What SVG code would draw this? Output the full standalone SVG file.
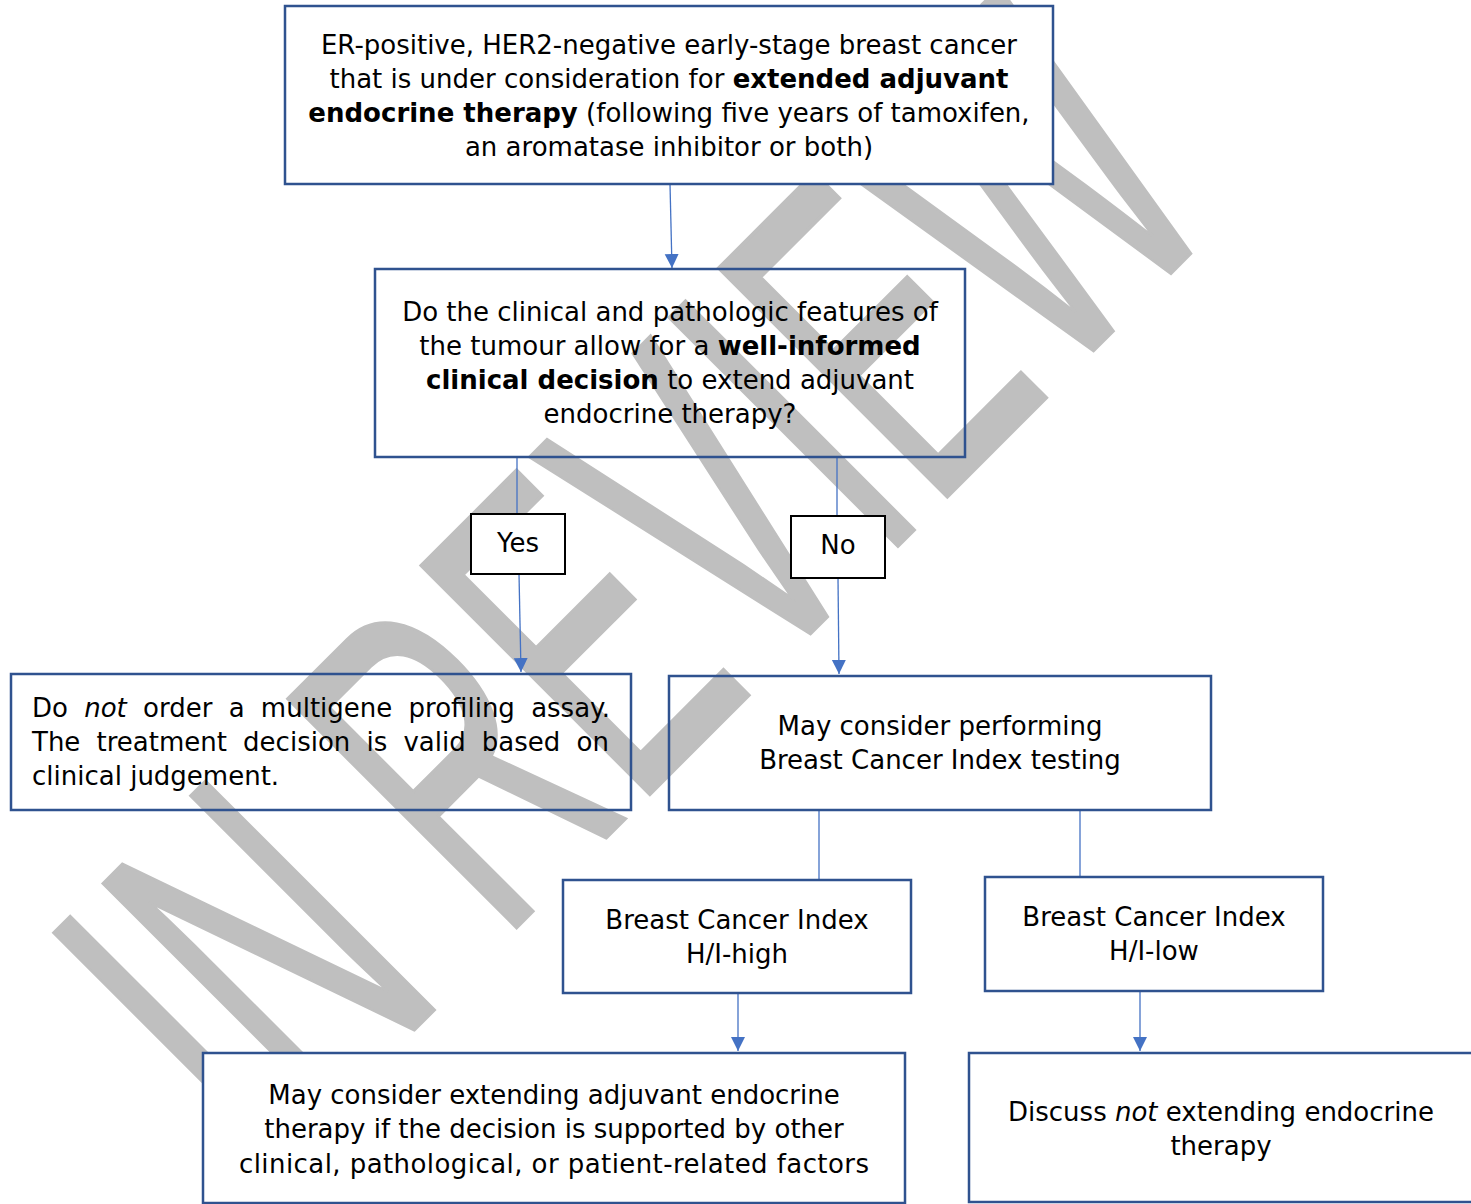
<svg xmlns="http://www.w3.org/2000/svg" width="1471" height="1204" viewBox="0 0 1471 1204">
  <style>
    .box { fill: none; stroke: #2F528F; stroke-width: 2.5; }
    .boxw { fill: #FFFFFF; stroke: #2F528F; stroke-width: 2.5; }
    .lbl { fill: #FFFFFF; stroke: #000000; stroke-width: 2; }
    .t { font-family: "DejaVu Sans", "Liberation Sans", sans-serif; font-size: 26px; fill: #000000; }
    .c { text-anchor: middle; }
    .b { font-weight: bold; }
    .i { font-style: italic; }
    .con { stroke: #4472C4; stroke-width: 1.3; fill: none; }
    .wm { font-family: "Liberation Sans", Arial, sans-serif; font-size: 261px; fill: #BFBFBF; stroke: #BFBFBF; stroke-width: 2; text-anchor: middle; }
  </style>
  <defs>
    <marker id="arr" markerUnits="userSpaceOnUse" markerWidth="16" markerHeight="16" refX="14" refY="7" orient="auto">
      <path d="M0,0 L14,7 L0,14 Z" fill="#4472C4"/>
    </marker>
  </defs>
  <rect width="1471" height="1204" fill="#FFFFFF"/>

  <g id="watermark">
    <text class="wm" transform="translate(747,697) rotate(-45) scale(1,1.8)">IN REVIEW</text>
  </g>

  <g id="connectors">
    <line class="con" x1="670" y1="184" x2="672" y2="268" marker-end="url(#arr)"/>
    <line class="con" x1="517" y1="457" x2="517" y2="514"/>
    <line class="con" x1="519" y1="574" x2="521" y2="672" marker-end="url(#arr)"/>
    <line class="con" x1="837" y1="457" x2="837" y2="516"/>
    <line class="con" x1="838" y1="578" x2="839" y2="674" marker-end="url(#arr)"/>
    <line class="con" x1="819" y1="810" x2="819" y2="879"/>
    <line class="con" x1="1080" y1="810" x2="1080" y2="877"/>
    <line class="con" x1="738" y1="993" x2="738" y2="1051" marker-end="url(#arr)"/>
    <line class="con" x1="1140" y1="991" x2="1140" y2="1051" marker-end="url(#arr)"/>
  </g>

  <g id="n-start">
    <rect class="boxw" x="285" y="6" width="768" height="178"/>
    <text class="t c" x="669" y="54">ER-positive, HER2-negative early-stage breast cancer</text>
    <text class="t c" x="669" y="88">that is under consideration for <tspan class="b">extended adjuvant</tspan></text>
    <text class="t c" x="669" y="122"><tspan class="b">endocrine therapy</tspan> (following five years of tamoxifen,</text>
    <text class="t c" x="669" y="156">an aromatase inhibitor or both)</text>
  </g>

  <g id="n-question">
    <rect class="box" x="375" y="269" width="590" height="188"/>
    <text class="t c" x="670" y="321">Do the clinical and pathologic features of</text>
    <text class="t c" x="670" y="355">the tumour allow for a <tspan class="b">well-informed</tspan></text>
    <text class="t c" x="670" y="389"><tspan class="b">clinical decision</tspan> to extend adjuvant</text>
    <text class="t c" x="670" y="423">endocrine therapy?</text>
  </g>

  <g id="n-yes">
    <rect class="lbl" x="471" y="514" width="94" height="60"/>
    <text class="t c" x="518" y="552">Yes</text>
  </g>

  <g id="n-no">
    <rect class="lbl" x="791" y="516" width="94" height="62"/>
    <text class="t c" x="838" y="554">No</text>
  </g>

  <g id="n-donot">
    <rect class="box" x="11" y="674" width="620" height="136"/>
    <text class="t" x="32" y="717" word-spacing="8">Do <tspan class="i">not</tspan> order a multigene profiling assay.</text>
    <text class="t" x="32" y="751" word-spacing="7.9">The treatment decision is valid based on</text>
    <text class="t" x="32" y="785">clinical judgement.</text>
  </g>

  <g id="n-bci">
    <rect class="box" x="669" y="676" width="542" height="134"/>
    <text class="t c" x="940" y="735">May consider performing</text>
    <text class="t c" x="940" y="769">Breast Cancer Index testing</text>
  </g>

  <g id="n-high">
    <rect class="boxw" x="563" y="880" width="348" height="113"/>
    <text class="t c" x="737" y="929">Breast Cancer Index</text>
    <text class="t c" x="737" y="963">H/I-high</text>
  </g>

  <g id="n-low">
    <rect class="boxw" x="985" y="877" width="338" height="114"/>
    <text class="t c" x="1154" y="926">Breast Cancer Index</text>
    <text class="t c" x="1154" y="960">H/I-low</text>
  </g>

  <g id="n-extend">
    <rect class="boxw" x="203" y="1053" width="702" height="150"/>
    <text class="t c" x="554" y="1104">May consider extending adjuvant endocrine</text>
    <text class="t c" x="554" y="1138">therapy if the decision is supported by other</text>
    <text class="t c" x="554" y="1173" textLength="630" lengthAdjust="spacing">clinical, pathological, or patient-related factors</text>
  </g>

  <g id="n-discuss">
    <rect class="boxw" x="969" y="1053" width="510" height="149"/>
    <text class="t c" x="1221" y="1121">Discuss <tspan class="i">not</tspan> extending endocrine</text>
    <text class="t c" x="1221" y="1155">therapy</text>
  </g>
</svg>
